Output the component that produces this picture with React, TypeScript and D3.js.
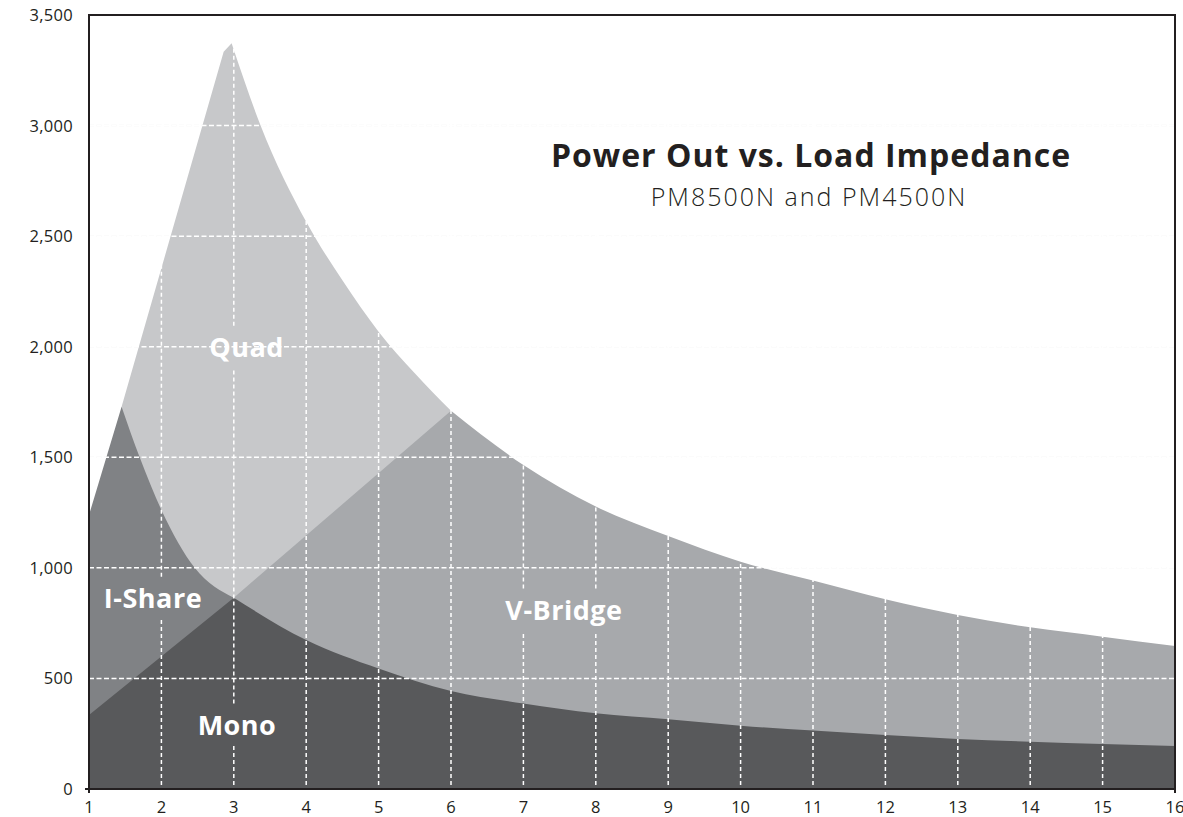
import React from 'react';
import * as d3 from 'd3';

const W = 1183, H = 817;
const margin = { top: 15, right: 8, bottom: 28, left: 89 };

// impedance ticks (ohms) and power ticks (watts)
const xTicks = [1, 2, 3, 4, 5, 6, 7, 8, 9, 10, 11, 12, 13, 14, 15, 16];
const yTicks = [0, 500, 1000, 1500, 2000, 2500, 3000, 3500];

// each mode: a straight rise, then a falling curve  [ohms, watts]
const quadRise = [[1.45, 1729], [2.86, 3334], [2.97, 3372]];
const quadFall = [[2.97, 3372], [3.37, 3000], [4, 2565], [4.5, 2300], [5, 2068], [5.5, 1880], [6, 1710]];

const vBridgeRise = [[3, 865], [6, 1710]];
const vBridgeFall = [[6, 1710], [7, 1465], [8, 1277], [9, 1144], [10, 1028], [11, 943], [12, 858], [13, 787], [14, 731], [15, 689], [16, 647]];

const iShareRise = [[1, 1239], [1.45, 1729]];
const iShareFall = [[1.45, 1729], [1.7, 1500], [2, 1262], [2.46, 1000], [3, 865]];

const monoRise = [[1, 335], [3, 865]];
const monoFall = [[3, 865], [4, 674], [5, 545], [6, 443], [7, 387], [8, 342], [9, 315], [10, 286], [11, 264], [12, 244], [13, 226], [14, 214], [15, 203], [16, 194]];

const modes = [
  { name: 'Quad', rise: quadRise, fall: quadFall, color: '#c7c8ca', at: [3.175, 1953] },
  { name: 'V-Bridge', rise: vBridgeRise, fall: vBridgeFall, color: '#a7a9ac', at: [7.56, 764] },
  { name: 'I-Share', rise: iShareRise, fall: iShareFall, color: '#808285', at: [1.884, 818] },
  { name: 'Mono', rise: monoRise, fall: monoFall, color: '#58595b', at: [3.044, 244] },
];

const FONT = "'Open Sans', sans-serif";
const INK = '#231f20';
const LABEL_SIZE = 27;

export default function App() {
  const x = d3.scaleLinear().domain([1, 16]).range([margin.left, W - margin.right]);
  const y = d3.scaleLinear().domain([0, 3500]).range([H - margin.bottom, margin.top]);
  const fmt = d3.format(',');

  const fallLine = d3.line<number[]>()
    .x(d => x(d[0]))
    .y(d => y(d[1]))
    .curve(d3.curveMonotoneX);

  const areaPath = (rise: number[][], fall: number[][]) => {
    const up = rise.map(d => `L${x(d[0])},${y(d[1])}`).join('');
    const down = (fallLine(fall) || '').replace(/^M/, 'L');
    const last = fall[fall.length - 1];
    return `M${x(rise[0][0])},${y(0)}${up}${down}L${x(last[0])},${y(0)}Z`;
  };

  // label boxes, so vertical grid lines stop short of the text
  const boxes = modes.map(m => {
    const cx = x(m.at[0]), base = y(m.at[1]);
    const half = m.name.length * LABEL_SIZE * 0.62 / 2;
    return { x0: cx - half, x1: cx + half, y0: base - LABEL_SIZE * 0.72 - 12, y1: base + 11 };
  });

  const vSegments: { v: number; a: number; b: number }[] = [];
  xTicks.slice(1, -1).forEach(v => {
    const px = x(v);
    // walk upward from the axis, lowest gap first
    const gaps = boxes.filter(b => px >= b.x0 && px <= b.x1).sort((p, q) => q.y1 - p.y1);
    let start = y(0) - 4;
    gaps.forEach(g => {
      vSegments.push({ v, a: start, b: g.y1 });
      start = g.y0;
    });
    vSegments.push({ v, a: start, b: y(3500) });
  });

  const x0 = x(1), x1 = x(16), y0 = y(0), y1 = y(3500);

  return (
    <svg width={W} height={H} style={{ position: 'absolute', left: 0, top: 0, display: 'block' }} fontFamily={FONT}>
      <rect width={W} height={H} fill="#fff" />

      {/* faint grid seen on the white background */}
      {yTicks.slice(1, -1).map(v => (
        <line key={'hg' + v} x1={x0} x2={x1} y1={y(v)} y2={y(v)} stroke="#efeff0" strokeWidth={1.5} strokeDasharray="5,2.5" />
      ))}

      {modes.map(m => (
        <path key={m.name} d={areaPath(m.rise, m.fall)} fill={m.color} />
      ))}

      {/* white grid over the fills */}
      {yTicks.slice(1, -1).map(v => (
        <line key={'hw' + v} x1={x0} x2={x1} y1={y(v)} y2={y(v)} stroke="#fff" strokeWidth={1.5} strokeDasharray="5,2.5" />
      ))}
      {vSegments.map((s, i) => (
        <line key={'vw' + i} x1={x(s.v)} x2={x(s.v)} y1={s.a} y2={s.b} stroke="#fff" strokeWidth={1.5} strokeDasharray="4,3" />
      ))}

      {modes.map(m => (
        <text key={'l' + m.name} x={x(m.at[0])} y={y(m.at[1])} textAnchor="middle" fill="#fff" fontWeight={700}
          fontSize={LABEL_SIZE} letterSpacing={0.5}>
          {m.name}
        </text>
      ))}

      {/* frame */}
      <rect x={x0} y={y1} width={x1 - x0} height={y0 - y1} fill="none" stroke={INK} strokeWidth={2} />
      <line x1={x0 - 4} x2={x0} y1={y0} y2={y0} stroke={INK} strokeWidth={2} />
      <line x1={x0} x2={x0} y1={y0} y2={y0 + 4} stroke={INK} strokeWidth={2} />
      <line x1={x1} x2={x1} y1={y0} y2={y0 + 4} stroke={INK} strokeWidth={2} />

      {yTicks.map(v => (
        <text key={'yt' + v} x={x0 - 16} y={y(v) + 6} textAnchor="end" fontSize={16.5} fill={INK} letterSpacing={0.3}>
          {fmt(v)}
        </text>
      ))}
      {xTicks.map(v => (
        <text key={'xt' + v} x={x(v)} y={y0 + 24} textAnchor="middle" fontSize={16.5} fill={INK}>
          {v}
        </text>
      ))}

      <text x={811} y={167} textAnchor="middle" fontWeight={700} fontSize={32} fill={INK} letterSpacing={1}>
        Power Out vs. Load Impedance
      </text>
      <text x={809} y={206} textAnchor="middle" fontWeight={300} fontSize={25} fill={INK} letterSpacing={2}>
        PM8500N and PM4500N
      </text>
    </svg>
  );
}
